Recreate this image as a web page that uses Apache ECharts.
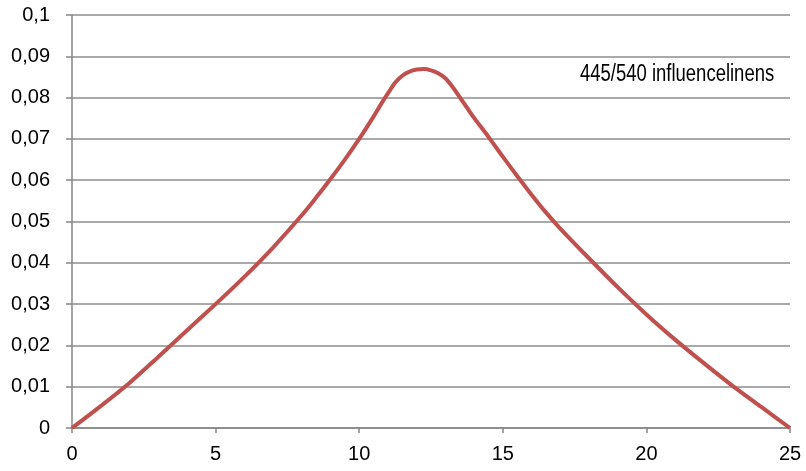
<!DOCTYPE html>
<html>
<head>
<meta charset="utf-8">
<script src="https://cdn.jsdelivr.net/npm/echarts@6/dist/echarts.min.js"></script>
<style>html,body{margin:0;padding:0;background:#fff}#c{width:806px;height:471px}</style>
</head>
<body>
<div id="c"></div>
<script>
// Influence line values: [x, y]
const xValues = [0, 1, 2, 3, 4, 5, 6, 7, 8, 8.5, 9, 9.5, 10, 10.5, 10.75, 11, 11.25, 11.5, 11.75, 12, 12.25, 12.5, 12.75, 13, 13.25, 13.5, 13.75, 14, 14.5, 15, 15.5, 16, 16.5, 17, 18, 19, 20, 21, 22, 23, 24, 25];
const yValues = [0, 0.0053, 0.0109, 0.0172, 0.0236, 0.0300, 0.0366, 0.0437, 0.0515, 0.0558, 0.0603, 0.0650, 0.0700, 0.0754, 0.0783, 0.0810, 0.0836, 0.0853, 0.0863, 0.0868, 0.0869, 0.0866, 0.0859, 0.0847, 0.0826, 0.0801, 0.0776, 0.0751, 0.0705, 0.0657, 0.0610, 0.0565, 0.0522, 0.0483, 0.0411, 0.0341, 0.0275, 0.0214, 0.0157, 0.0102, 0.0051, 0];
const annotation = "445/540 influencelinens";

const chart = echarts.init(document.getElementById('c'), null, {renderer: 'canvas'});
const fontFam = '"Liberation Sans", Arial, sans-serif';
chart.setOption({
  animation: false,
  backgroundColor: '#ffffff',
  grid: {left: 72, right: 16, top: 15, bottom: 43, containLabel: false},
  xAxis: {
    type: 'value', min: 0, max: 25, interval: 5,
    axisLine: {show: true, onZero: false, lineStyle: {color: '#868686', width: 1.5}},
    axisTick: {show: true, length: 5, lineStyle: {color: '#868686', width: 1.5}},
    splitLine: {show: false},
    axisLabel: {color: '#000', fontSize: 20, fontFamily: fontFam, margin: 16}
  },
  yAxis: {
    type: 'value', min: 0, max: 0.1, interval: 0.01,
    axisLine: {show: true, lineStyle: {color: '#868686', width: 1.5}},
    axisTick: {show: true, length: 6, lineStyle: {color: '#868686', width: 1.5}},
    splitLine: {show: true, lineStyle: {color: '#8c8c8c', width: 1.5}},
    axisLabel: {color: '#000', fontSize: 20, fontFamily: fontFam, margin: 22,
      formatter: v => (Math.round(v * 100) / 100).toString().replace('.', ',')}
  },
  series: [{
    type: 'line',
    data: xValues.map((x, i) => [x, yValues[i]]),
    smooth: 0.3,
    showSymbol: false,
    lineStyle: {color: '#c0504d', width: 4},
    itemStyle: {color: '#c0504d'}
  }],
  graphic: [{
    type: 'text', x: 580, y: 63, scaleX: 0.84, scaleY: 1.05,
    style: {text: annotation, fill: '#000', font: '22px "Liberation Sans", sans-serif'}
  }]
});
</script>
</body>
</html>
